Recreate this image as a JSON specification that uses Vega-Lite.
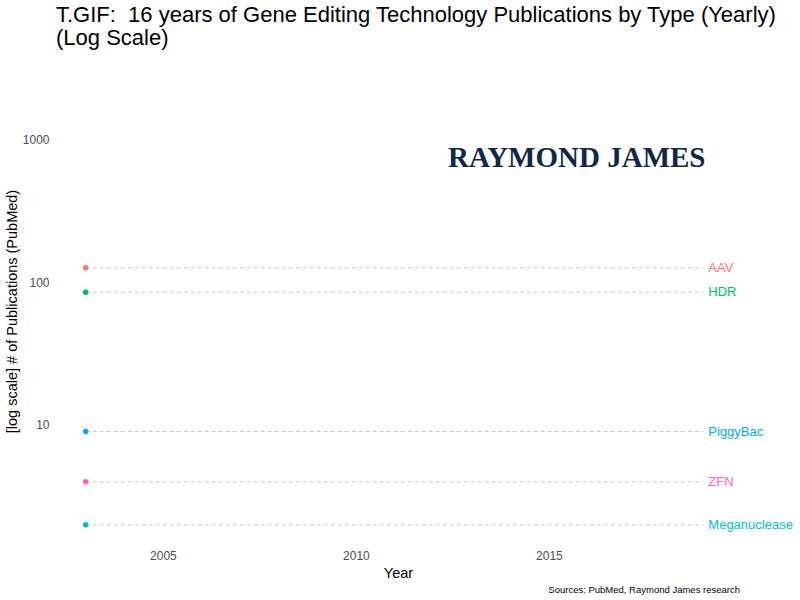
{
  "$schema": "https://vega.github.io/schema/vega-lite/v6.json",
  "description": "Gene editing technology publications by type, log scale",
  "width": 684,
  "height": 470,
  "padding": {"left": 4, "top": 4, "right": 5, "bottom": 5},
  "background": "white",
  "config": {
    "font": "Liberation Sans",
    "view": {"stroke": null},
    "axis": {
      "grid": false,
      "domain": false,
      "ticks": false,
      "labelColor": "#4d4d4d",
      "labelFontSize": 12,
      "titleColor": "black",
      "titleFontSize": 14.5,
      "titleFontWeight": "normal"
    }
  },
  "title": {
    "text": ["T.GIF:\u00a0 16 years of Gene Editing Technology Publications by Type (Yearly)", "(Log Scale)"],
    "fontSize": 22,
    "fontWeight": "normal",
    "lineHeight": 23,
    "anchor": "start",
    "frame": "group",
    "color": "black",
    "offset": 26
  },
  "datasets": {
    "pubs": [
      {"type": "AAV", "start": 2003, "end": 2019, "count": 126},
      {"type": "HDR", "start": 2003, "end": 2019, "count": 85},
      {"type": "PiggyBac", "start": 2003, "end": 2019, "count": 9},
      {"type": "ZFN", "start": 2003, "end": 2019, "count": 4},
      {"type": "Meganuclease", "start": 2003, "end": 2019, "count": 2}
    ],
    "logo": [
      {"year": 2015.72, "count": 745, "label": "RAYMOND JAMES"}
    ],
    "caption": [
      {"year": 2019.95, "count": 0.7, "label": "Sources: PubMed, Raymond James research"}
    ]
  },
  "layer": [
    {
      "data": {"name": "pubs"},
      "mark": {"type": "rule", "color": "#c8c8c8", "strokeWidth": 1, "strokeDash": [4, 3]},
      "encoding": {
        "x": {
          "field": "start",
          "type": "quantitative",
          "scale": {"domain": [2002.23, 2019.95], "zero": false, "nice": false},
          "axis": {"values": [2005, 2010, 2015], "format": "d", "labelPadding": 4.5, "titlePadding": 5},
          "title": "Year"
        },
        "x2": {"field": "end"},
        "y": {
          "field": "count",
          "type": "quantitative",
          "scale": {"type": "log", "domain": [1.422, 2774], "nice": false},
          "axis": {"values": [10, 100, 1000], "format": "d", "labelPadding": 7, "titlePadding": 3},
          "title": "[log scale] # of Publications (PubMed)"
        }
      }
    },
    {
      "data": {"name": "pubs"},
      "mark": {"type": "circle", "size": 30, "opacity": 1},
      "encoding": {
        "x": {"field": "start", "type": "quantitative"},
        "y": {"field": "count", "type": "quantitative"},
        "color": {
          "field": "type",
          "type": "nominal",
          "scale": {
            "domain": ["AAV", "HDR", "PiggyBac", "ZFN", "Meganuclease"],
            "range": ["#F8766D", "#00BE67", "#00A9FF", "#FF61CC", "#00BFC4"]
          },
          "legend": null
        }
      }
    },
    {
      "data": {"name": "pubs"},
      "mark": {"type": "text", "align": "left", "baseline": "middle", "dx": 5, "fontSize": 13},
      "encoding": {
        "x": {"field": "end", "type": "quantitative"},
        "y": {"field": "count", "type": "quantitative"},
        "text": {"field": "type"},
        "color": {"field": "type", "type": "nominal"}
      }
    },
    {
      "data": {"name": "logo"},
      "mark": {"type": "text", "align": "center", "baseline": "middle", "font": "Liberation Serif", "fontWeight": "bold", "fontSize": 29, "color": "#0f2847"},
      "encoding": {
        "x": {"field": "year", "type": "quantitative"},
        "y": {"field": "count", "type": "quantitative"},
        "text": {"field": "label"}
      }
    },
    {
      "data": {"name": "caption"},
      "mark": {"type": "text", "align": "right", "baseline": "middle", "fontSize": 9.5, "color": "black"},
      "encoding": {
        "x": {"field": "year", "type": "quantitative"},
        "y": {"field": "count", "type": "quantitative"},
        "text": {"field": "label"}
      }
    }
  ]
}
